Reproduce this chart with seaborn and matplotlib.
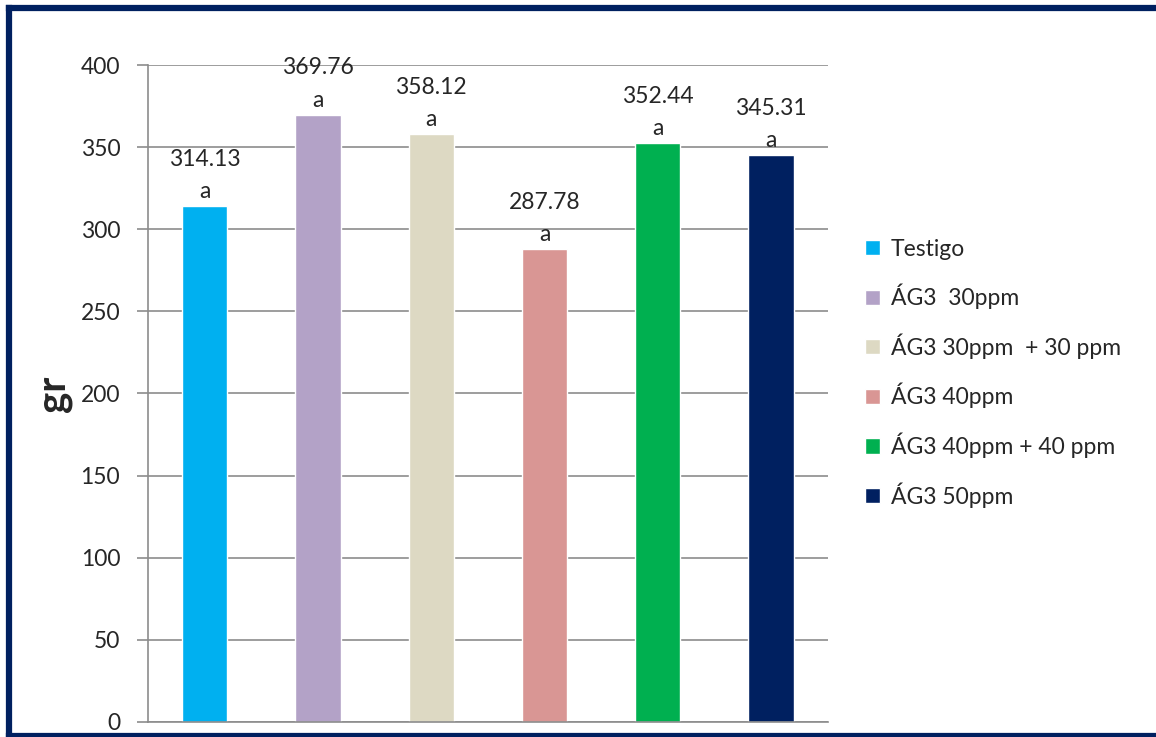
import numpy as np
import pandas as pd
import seaborn as sns
import matplotlib.pyplot as plt
from matplotlib.lines import Line2D

# data
treatments = ['Testigo', 'ÁG3  30ppm', 'ÁG3 30ppm  + 30 ppm', 'ÁG3 40ppm',
              'ÁG3 40ppm + 40 ppm', 'ÁG3 50ppm']
weights = [314.13, 369.76, 358.12, 287.78, 352.44, 345.31]
letters = ['a', 'a', 'a', 'a', 'a', 'a']
colors = ['#00B0F0', '#B3A2C7', '#DDD9C3', '#D99694', '#00B050', '#002060']

df = pd.DataFrame({'Tratamiento': treatments, 'gr': weights})

sns.set_style('white')
plt.rcParams['font.family'] = ['Lato', 'DejaVu Sans']

fig = plt.figure(figsize=(11.56, 7.37), dpi=100)
ax = fig.add_axes([0.128, 0.0204, 0.588, 0.8914])

sns.barplot(data=df, x='Tratamiento', y='gr', hue='Tratamiento',
            palette=colors, width=0.4, dodge=False, saturation=1,
            legend=True, ax=ax)

ax.set_ylim(0, 400)
ax.set_yticks(np.arange(0, 401, 50))
ax.yaxis.grid(True, color='#8c8c8c', linewidth=1.2)
ax.set_axisbelow(True)
ax.set_xticks([])
ax.set_xlabel('')
ax.set_ylabel('gr', fontsize=29, fontweight='bold', labelpad=6)
ax.tick_params(axis='y', labelsize=16.5, length=8, color='#8c8c8c', width=1.2,
               left=True, pad=12)
for side in ['top', 'right']:
    ax.spines[side].set_visible(False)
for side in ['left', 'bottom']:
    ax.spines[side].set_color('#8c8c8c')
    ax.spines[side].set_linewidth(1.2)

for i, (v, l) in enumerate(zip(weights, letters)):
    ax.annotate(f'{v:.2f}\n{l}', (i, v), xytext=(0, 3), textcoords='offset points',
                ha='center', va='bottom', fontsize=16.5, linespacing=1.65)

ax.legend(loc='center left', bbox_to_anchor=(1.025, 0.531), frameon=False,
          fontsize=16.5, handlelength=0.65, handleheight=0.65, handletextpad=0.45,
          labelspacing=1.05)

# dark blue frame: left, top and bottom edges (right edge is cut off)
for xs, ys in [([0.0078, 0.0078], [0.002, 0.989]),
               ([0.0078, 1.0], [0.989, 0.989]),
               ([0.0078, 1.0], [0.002, 0.002])]:
    fig.add_artist(Line2D(xs, ys, color='#002060', linewidth=4.5,
                          solid_capstyle='projecting', transform=fig.transFigure))

fig.savefig('out.png', dpi=100)
